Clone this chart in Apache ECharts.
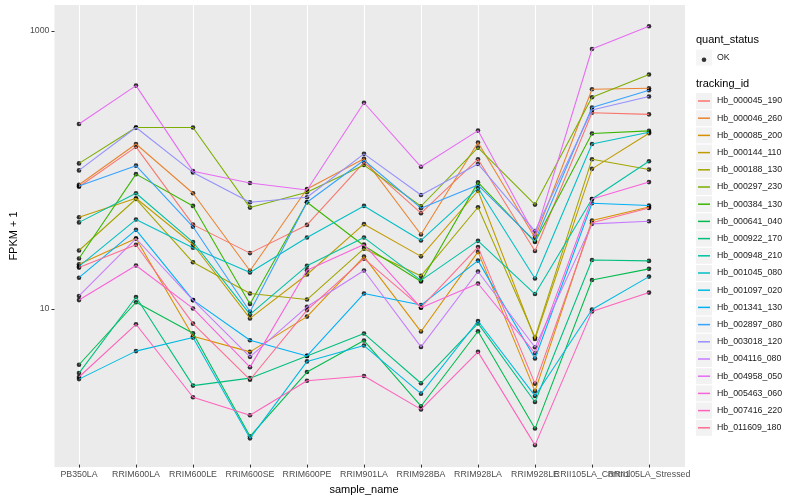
<!DOCTYPE html>
<html><head><meta charset="utf-8">
<script src="https://cdn.jsdelivr.net/npm/echarts@6/dist/echarts.min.js"></script>
<style>html,body{margin:0;padding:0;background:#fff}#c{width:800px;height:500px}</style>
</head><body><div id="c"></div>
<script>
const FONT = '"Liberation Sans", Arial, Helvetica, sans-serif';

const sampleNames = ['PB350LA','RRIM600LA','RRIM600LE','RRIM600SE','RRIM600PE','RRIM901LA','RRIM928BA','RRIM928LA','RRIM928LE','RRII105LA_Control','RRII105LA_Stressed'];

const trackingIds = ['Hb_000045_190','Hb_000046_260','Hb_000085_200','Hb_000144_110','Hb_000188_130','Hb_000297_230','Hb_000384_130','Hb_000641_040','Hb_000922_170','Hb_000948_210','Hb_001045_080','Hb_001097_020','Hb_001341_130','Hb_002897_080','Hb_003018_120','Hb_004116_080','Hb_004958_050','Hb_005463_060','Hb_007416_220','Hb_011609_180'];

const trackColors = ['#F8766D','#EA8331','#D89000','#C09B00','#A3A500','#7CAE00','#39B600','#00BB4E','#00BF7D','#00C1A3','#00BFC4','#00BAE0','#00B0F6','#35A2FF','#9590FF','#C77CFF','#E76BF3','#FA62DB','#FF62BC','#FF6C91'];

// FPKM + 1 per sample (order of sampleNames)
const Hb_000045_190 = [74.6, 145, 39.7, 24.7, 39.5, 112, 48.0, 118, 25.6, 256, 249];
const Hb_000046_260 = [77.1, 152, 66.9, 18.4, 71.8, 119, 33.7, 156, 31.9, 378, 385];
const Hb_000085_200 = [20.5, 31.5, 6.18, 4.77, 8.58, 23.3, 6.69, 25.2, 2.48, 42.5, 53.3];
const Hb_000144_110 = [44.9, 61.6, 28.5, 8.33, 17.3, 40.0, 23.4, 69.8, 5.91, 100.5, 182];
const Hb_000188_130 = [25.8, 60.8, 21.2, 12.6, 11.4, 26.6, 16.9, 53.0, 6.08, 118, 99.5];
const Hb_000297_230 = [110, 200, 200, 52.7, 68.0, 107, 53.9, 143, 55.4, 331, 483];
const Hb_000384_130 = [22.6, 92.0, 54.2, 10.6, 57.6, 27.9, 15.4, 80.2, 29.7, 181, 189];
const Hb_000641_040 = [3.85, 10.9, 6.50, 1.17, 3.41, 5.76, 1.93, 6.72, 1.33, 15.8, 19.0];
const Hb_000922_170 = [3.35, 11.9, 2.72, 3.08, 4.46, 6.47, 2.83, 7.67, 2.07, 22.0, 21.7];
const Hb_000948_210 = [41.2, 66.9, 29.7, 8.90, 20.0, 32.0, 15.7, 30.3, 12.5, 60.8, 114];
const Hb_001045_080 = [19.8, 43.2, 27.0, 17.9, 32.0, 54.2, 30.5, 73.0, 16.2, 152, 185];
const Hb_001097_020 = [3.03, 4.83, 6.05, 1.13, 4.07, 5.30, 2.38, 7.97, 2.29, 9.67, 16.7];
const Hb_001341_130 = [16.4, 36.4, 11.3, 5.79, 4.46, 12.6, 10.4, 21.8, 4.27, 56.7, 54.5];
const Hb_002897_080 = [75.5, 106, 38.3, 9.31, 57.6, 116, 52.2, 76.7, 30.2, 279, 372];
const Hb_003018_120 = [97.9, 200, 94.7, 57.6, 62.6, 129, 65.0, 109, 35.6, 268, 335];
const Hb_004116_080 = [12.1, 31.5, 11.3, 4.39, 10.1, 18.5, 5.18, 18.2, 5.15, 40.2, 42.0];
const Hb_004958_050 = [212, 402, 96.7, 79.3, 70.6, 302, 104, 190, 33.1, 739, 1081];
const Hb_005463_060 = [11.3, 20.1, 9.83, 3.70, 18.6, 28.5, 9.95, 14.9, 4.67, 60.8, 80.6];
const Hb_007416_220 = [3.14, 7.55, 2.24, 1.66, 2.95, 3.19, 1.83, 4.77, 1.01, 9.36, 12.8];
const Hb_011609_180 = [19.4, 28.4, 7.63, 3.00, 9.56, 22.5, 10.0, 27.3, 2.81, 40.9, 52.4];

const seriesValues = [Hb_000045_190, Hb_000046_260, Hb_000085_200, Hb_000144_110, Hb_000188_130, Hb_000297_230, Hb_000384_130, Hb_000641_040, Hb_000922_170, Hb_000948_210, Hb_001045_080, Hb_001097_020, Hb_001341_130, Hb_002897_080, Hb_003018_120, Hb_004116_080, Hb_004958_050, Hb_005463_060, Hb_007416_220, Hb_011609_180];

const yTickLabels = [10, 1000];
const quantStatus = 'OK';

const chart = echarts.init(document.getElementById('c'), null, {renderer: 'canvas'});

const lineSeries = trackingIds.map((id, i) => ({
  name: id,
  type: 'line',
  xAxisIndex: 1,
  yAxisIndex: 1,
  data: seriesValues[i],
  showSymbol: false,
  symbol: 'none',
  color: trackColors[i],
  lineStyle: {width: 1.07, color: trackColors[i]},
  emphasis: {disabled: true},
  silent: true
}));

const pointData = [];
seriesValues.forEach(arr => arr.forEach((v, j) => pointData.push([j, v])));

const pointSeries = {
  name: quantStatus,
  type: 'scatter',
  xAxisIndex: 1,
  yAxisIndex: 1,
  data: pointData,
  symbol: 'circle',
  symbolSize: 4.6,
  itemStyle: {color: '#000000'},
  color: '#000000',
  silent: true
};

const legendText = {fontSize: 8.8, color: '#1A1A1A', fontFamily: FONT, lineHeight: 16, height: 16};
const hiddenText = {fontSize: 8.8, color: 'rgba(0,0,0,0)', fontFamily: FONT, lineHeight: 16, height: 16};

chart.setOption({
  animation: false,
  textStyle: {fontFamily: FONT},
  title: [
    {text: 'quant_status', left: 696, top: 34, padding: 0, textStyle: {fontSize: 11, fontWeight: 'normal', color: '#000', fontFamily: FONT}},
    {text: 'tracking_id', left: 696, top: 78, padding: 0, textStyle: {fontSize: 11, fontWeight: 'normal', color: '#000', fontFamily: FONT}}
  ],
  legend: [
    {data: trackingIds, orient: 'vertical', left: 696, top: 93, padding: 0, itemWidth: 16, itemHeight: 16, itemGap: 1.2,
     icon: 'rect', itemStyle: {color: '#F2F2F2', borderWidth: 0}, textStyle: legendText, selectedMode: false},
    {data: trackingIds, orient: 'vertical', left: 698, top: 93, padding: 0, itemWidth: 12, itemHeight: 16, itemGap: 1.2,
     icon: 'path://M0,0h12v1.5h-12z', textStyle: hiddenText, selectedMode: false},
    {data: [quantStatus], orient: 'vertical', left: 696, top: 49.5, padding: 0, itemWidth: 16, itemHeight: 16,
     icon: 'rect', itemStyle: {color: '#F2F2F2', borderWidth: 0}, textStyle: legendText, selectedMode: false},
    {data: [quantStatus], orient: 'vertical', left: 701.7, top: 55.2, padding: 0, itemWidth: 4.6, itemHeight: 4.6,
     icon: 'circle', itemStyle: {color: '#000'}, textStyle: {fontSize: 8.8, color: 'rgba(0,0,0,0)'}, selectedMode: false}
  ],
  grid: [
    {left: 45, right: 115, top: 5, bottom: 33, show: true, backgroundColor: '#EBEBEB', borderWidth: 0},
    {left: 79, right: 151, top: 5, bottom: 33, show: false}
  ],
  xAxis: [
    {gridIndex: 0, type: 'value', show: false, min: 0, max: 1},
    {gridIndex: 1, type: 'category', data: sampleNames, boundaryGap: false,
     axisLine: {show: false},
     axisTick: {show: true, length: 3, lineStyle: {color: '#333333', width: 1}},
     axisLabel: {interval: 0, fontSize: 8.8, color: '#4D4D4D', margin: 5.5, fontFamily: FONT},
     splitLine: {show: true, lineStyle: {color: '#FFFFFF', width: 1.1}},
     name: 'sample_name', nameLocation: 'middle', nameGap: 16,
     nameTextStyle: {fontSize: 11, color: '#000', fontFamily: FONT}}
  ],
  yAxis: [
    {gridIndex: 0, type: 'log', logBase: 10, min: 0.73, max: 1538,
     axisLine: {show: false},
     axisTick: {show: true, length: 3, customValues: yTickLabels, lineStyle: {color: '#333333', width: 1}},
     axisLabel: {customValues: yTickLabels, fontSize: 8.8, color: '#4D4D4D', margin: 5, fontFamily: FONT,
       formatter: v => (yTickLabels.indexOf(Math.round(v)) >= 0 ? String(Math.round(v)) : '')},
     splitLine: {show: true, showMinLine: false, showMaxLine: false, lineStyle: {color: ['#F6F6F6', '#FFFFFF'], width: 1.1}},
     name: 'FPKM + 1', nameLocation: 'middle', nameGap: 27,
     nameTextStyle: {fontSize: 11, color: '#000', fontFamily: FONT}},
    {gridIndex: 1, type: 'log', logBase: 10, min: 0.73, max: 1538, show: false}
  ],
  series: [...lineSeries, pointSeries]
});
</script>
</body></html>
